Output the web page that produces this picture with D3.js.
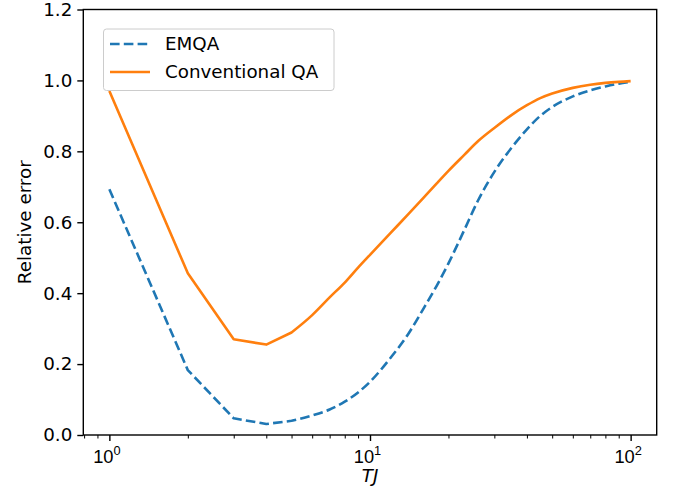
<!DOCTYPE html>
<html>
<head>
<meta charset="utf-8">
<script src="https://cdn.jsdelivr.net/npm/d3@7"></script>
<style>
  body { margin: 0; background: #fff; }
  svg { display: block; font-family: "DejaVu Sans", sans-serif; }
</style>
</head>
<body>
<div id="chart"></div>
<script>
// T J values (log axis)
var tj = [1, 2, 3, 4, 5, 6, 7, 8, 9, 10, 12, 14, 16, 18, 20, 23, 26, 30, 35, 40, 45, 50, 60, 70, 80, 90, 100];
// relative error, EMQA (dashed)
var emqa = [0.693, 0.183, 0.047, 0.031, 0.040, 0.055, 0.072, 0.094, 0.120, 0.150, 0.218, 0.284, 0.355, 0.420, 0.484, 0.578, 0.662, 0.742, 0.811, 0.862, 0.900, 0.925, 0.955, 0.972, 0.983, 0.991, 0.996];
// relative error, conventional QA (solid)
var conv = [0.970, 0.456, 0.270, 0.255, 0.289, 0.338, 0.388, 0.430, 0.472, 0.508, 0.570, 0.622, 0.668, 0.709, 0.745, 0.790, 0.829, 0.866, 0.903, 0.930, 0.950, 0.963, 0.979, 0.988, 0.993, 0.996, 0.998];

var seriesNames = ["EMQA", "Conventional QA"];
var seriesColors = ["#1f77b4", "#ff7f0e"];
var yTicks = [0, 0.2, 0.4, 0.6, 0.8, 1.0, 1.2];
var xMajor = [1, 10, 100];
var xMinor = [0.8, 0.9, 2, 3, 4, 5, 6, 7, 8, 9, 20, 30, 40, 50, 60, 70, 80, 90];

var W = 678, H = 494;
// plot box (note: "top" is taken by window.top, so use px*)
var pxL = 83.3, pxR = 656.7, pxT = 9.5, pxB = 435;
var fs = 18.3;

var svg = d3.select("#chart").append("svg")
    .attr("width", W)
    .attr("height", H);

var x = d3.scaleLog()
    .domain([Math.pow(10, -0.1), Math.pow(10, 2.1)])
    .range([pxL, pxR]);
var y = d3.scaleLinear()
    .domain([0, 1.2])
    .range([pxB, pxT]);

// clip to axes area
svg.append("clipPath").attr("id", "clip")
  .append("rect")
    .attr("x", pxL).attr("y", pxT)
    .attr("width", pxR - pxL).attr("height", pxB - pxT);

// straight segments for the coarse start, smooth after T=5
var lineLin = d3.line()
    .x(function(d) { return x(d[0]); })
    .y(function(d) { return y(d[1]); });
var lineSmooth = d3.line()
    .curve(d3.curveMonotoneX)
    .x(function(d) { return x(d[0]); })
    .y(function(d) { return y(d[1]); });

function pathOf(pts) {
  var head = pts.filter(function(p) { return p[0] <= 5; });
  var tail = pts.filter(function(p) { return p[0] >= 5; });
  var a = lineLin(head);
  var b = lineSmooth(tail);
  // join into one path so the dash pattern runs on
  return a + "L" + b.slice(1);
}

var data = [
  { name: seriesNames[0], color: seriesColors[0], dash: "9.6,4.2", pts: tj.map(function(t, i) { return [t, emqa[i]]; }) },
  { name: seriesNames[1], color: seriesColors[1], dash: null, pts: tj.map(function(t, i) { return [t, conv[i]]; }) }
];

svg.append("g").attr("clip-path", "url(#clip)")
  .selectAll("path")
  .data(data)
  .enter()
  .append("path")
    .attr("d", function(d) { return pathOf(d.pts); })
    .attr("fill", "none")
    .attr("stroke", function(d) { return d.color; })
    .attr("stroke-width", 2.6)
    .attr("stroke-dasharray", function(d) { return d.dash; })
    .attr("stroke-linejoin", "round");

// x axis, major ticks
var gxMajor = svg.append("g")
    .attr("transform", "translate(0," + pxB + ")")
    .call(d3.axisBottom(x).tickValues(xMajor).tickSize(6).tickFormat(""));
gxMajor.select(".domain").remove();
gxMajor.selectAll(".tick line").attr("stroke", "#000").attr("stroke-width", 1.4);

gxMajor.selectAll(".tick").each(function(d) {
  var t = d3.select(this).append("text")
      .attr("x", -3)
      .attr("y", 28)
      .attr("fill", "#000")
      .attr("text-anchor", "middle")
      .style("font-size", fs + "px");
  t.append("tspan").text("10");
  t.append("tspan")
      .attr("dy", -8)
      .style("font-size", (fs * 0.7) + "px")
      .text(Math.round(Math.log10(d)));
});

// x axis, minor ticks
var gxMinor = svg.append("g")
    .attr("transform", "translate(0," + pxB + ")")
    .call(d3.axisBottom(x).tickValues(xMinor).tickSize(3.5).tickFormat(""));
gxMinor.select(".domain").remove();
gxMinor.selectAll(".tick line").attr("stroke", "#000").attr("stroke-width", 1);

// y axis
var gy = svg.append("g")
    .attr("transform", "translate(" + pxL + ",0)")
    .call(d3.axisLeft(y).tickValues(yTicks).tickSize(6).tickPadding(5).tickFormat(d3.format(".1f")));
gy.select(".domain").remove();
gy.selectAll(".tick line").attr("stroke", "#000").attr("stroke-width", 1.4);
gy.selectAll(".tick text")
    .attr("fill", "#000")
    .style("font-size", fs + "px")
    .style("font-family", "DejaVu Sans");

// frame
svg.append("rect")
    .attr("x", pxL).attr("y", pxT)
    .attr("width", pxR - pxL).attr("height", pxB - pxT)
    .attr("fill", "none")
    .attr("stroke", "#000")
    .attr("stroke-width", 1.4);

// axis labels
svg.append("text")
    .attr("x", (pxL + pxR) / 2)
    .attr("y", 482)
    .attr("text-anchor", "middle")
    .style("font-size", fs + "px")
    .style("font-style", "italic")
    .text("TJ");

svg.append("text")
    .attr("transform", "translate(31," + ((pxT + pxB) / 2) + ") rotate(-90)")
    .attr("text-anchor", "middle")
    .style("font-size", fs + "px")
    .text("Relative error");

// legend
var lg = svg.append("g");
lg.append("rect")
    .attr("x", 103.5).attr("y", 29)
    .attr("width", 230.5).attr("height", 61.5)
    .attr("rx", 3)
    .attr("fill", "#fff")
    .attr("fill-opacity", 0.8)
    .attr("stroke", "#ccc")
    .attr("stroke-width", 1);

var items = lg.selectAll("g.item")
    .data(data)
    .enter()
    .append("g")
    .attr("class", "item")
    .attr("transform", function(d, i) { return "translate(0," + (44 + i * 28) + ")"; });

items.append("line")
    .attr("x1", 110).attr("x2", 150)
    .attr("stroke", function(d) { return d.color; })
    .attr("stroke-width", 2.6)
    .attr("stroke-dasharray", function(d) { return d.dash; });

items.append("text")
    .attr("x", 165)
    .attr("dy", "0.35em")
    .style("font-size", fs + "px")
    .text(function(d) { return d.name; });
</script>
</body>
</html>
